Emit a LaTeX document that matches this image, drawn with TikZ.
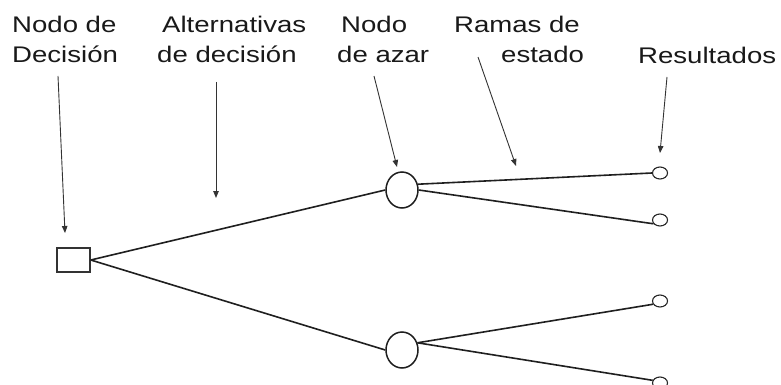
\documentclass[tikz,border=0pt]{standalone}
\usepackage{fontspec}
\setmainfont[FakeStretch=1.22]{Liberation Sans}
\usetikzlibrary{shapes.geometric,arrows.meta}
\begin{document}
\begin{tikzpicture}[x=1pt,y=-1pt,
  lbl/.style={anchor=base west,inner sep=0pt,font=\fontsize{22.6}{30}\selectfont,text=black!90},
  pointer/.style={line width=0.9pt,draw=black!80,-{Triangle[length=7pt,width=5.5pt]}},
  branch/.style={line width=1.6pt,draw=black!88},
  decbox/.style={draw=black!80,line width=1.5pt,minimum width=33pt,minimum height=24pt,inner sep=0pt},
  chance/.style={ellipse,draw=black!88,line width=1.5pt,minimum width=32pt,minimum height=36pt,inner sep=0pt},
  outcome/.style={ellipse,draw=black!85,line width=1.1pt,minimum width=15pt,minimum height=12pt,inner sep=0pt}]
\useasboundingbox (0,0) rectangle (781,385);
\fill[white] (0,0) rectangle (781,385);
% labels
\node[lbl] (l1a) at (12,33) {Nodo de};
\node[lbl] (l1b) at (12,63) {Decisión};
\node[lbl] (l2a) at (162,33) {Alternativas};
\node[lbl] (l2b) at (157,63) {de decisión};
\node[lbl] (l3a) at (341,33) {Nodo};
\node[lbl] (l3b) at (337,63) {de azar};
\node[lbl] (l4a) at (454,33) {Ramas de};
\node[lbl] (l4b) at (501,63) {estado};
\node[lbl] (l5) at (638,64) {Resultados};
% tree nodes
\node[decbox] (d) at (73.5,260) {};
\node[chance] (c1) at (402,190) {};
\node[chance] (c2) at (402,350) {};
\node[outcome] (o1) at (660,173) {};
\node[outcome] (o2) at (660,220) {};
\node[outcome] (o3) at (660,301) {};
\node[outcome] (o4) at (660,383) {};
% branches
\draw[branch] (d.east) -- (c1.west);
\draw[branch] (d.east) -- (c2.west);
\draw[branch] (c1.20) -- (o1.west);
\draw[branch] (c1.east) -- (o2.210);
\draw[branch] (c2.25) -- (o3.205);
\draw[branch] (c2.25) -- (o4.160);
% pointer arrows
\coordinate (s1) at (58,76);  \coordinate (e1) at (65,233);
\coordinate (s2) at (216,82); \coordinate (e2) at (216,198);
\coordinate (s3) at (374,76); \coordinate (e3) at (397,167);
\coordinate (s4) at (478,57); \coordinate (e4) at (516,166);
\coordinate (s5) at (667,77); \coordinate (e5) at (660,153);
\draw[pointer] (s1) -- (e1);
\draw[pointer] (s2) -- (e2);
\draw[pointer] (s3) -- (e3);
\draw[pointer] (s4) -- (e4);
\draw[pointer] (s5) -- (e5);
\end{tikzpicture}
\end{document}
